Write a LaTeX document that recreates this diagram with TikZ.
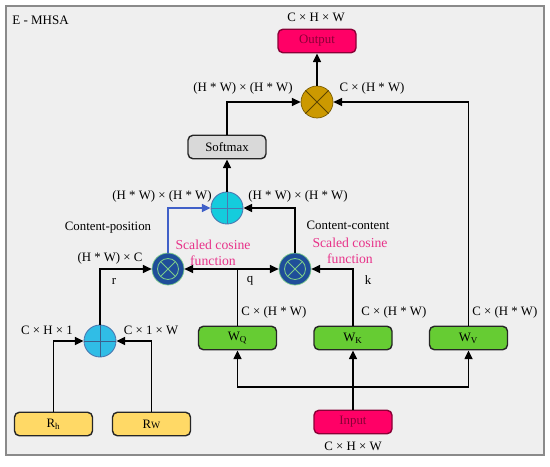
\documentclass[tikz,border=0pt]{standalone}
\usepackage{fontspec}
\setmainfont{Liberation Serif}
\usetikzlibrary{arrows.meta}
\definecolor{bgc}{HTML}{EFEFEF}
\definecolor{framec}{HTML}{8A8A8A}
\definecolor{outc}{HTML}{FF0066}
\definecolor{outtxt}{HTML}{8A0036}
\definecolor{goldc}{HTML}{CC9900}
\definecolor{grayc}{HTML}{D9D9D9}
\definecolor{cyanc}{HTML}{14CCDD}
\definecolor{cyanb}{HTML}{4A78B0}
\definecolor{addtwo}{HTML}{30BDE6}
\definecolor{navyc}{HTML}{1F4E99}
\definecolor{greenl}{HTML}{7CCB8A}
\definecolor{greenc}{HTML}{66CC33}
\definecolor{yellowc}{HTML}{FFD966}
\definecolor{pinkc}{HTML}{E8338A}
\definecolor{bluel}{HTML}{4060C8}
\begin{document}
\begin{tikzpicture}[x=0.02cm,y=-0.02cm,
  font=\fontsize{7.3}{8.8}\selectfont,
  every node/.style={inner sep=0pt},
  box/.style={draw=black!85, line width=0.8pt, rounded corners=2.8pt,
    minimum width=1.56cm, minimum height=0.47cm},
  circ/.style={circle, minimum size=0.64cm},
  arr/.style={line width=0.8pt, -{Triangle[length=5pt,width=4.6pt]}},
  ln/.style={line width=0.8pt},
  lbl/.style={font=\fontsize{7.3}{8.8}\selectfont},
  pinklbl/.style={text=pinkc, align=center, font=\fontsize{7.8}{9.2}\selectfont}
]
\useasboundingbox (0,0) rectangle (550,466);
\fill[white] (0,0) rectangle (550,466);
\draw[draw=framec, fill=bgc, line width=0.8pt] (6,6) rectangle (544,455);
\node[anchor=west, font=\fontsize{7.4}{9}\selectfont] (title) at (12,20) {E - MHSA};

% nodes
\node[box, fill=outc, draw=outtxt, text=outtxt] (out) at (317,41) {Output};
\node[circ, fill=goldc, draw=goldc!60!black, line width=0.4pt] (mul) at (317,102) {};
\draw[goldc!45!black, line width=0.5pt] (mul.north west) -- (mul.south east) (mul.north east) -- (mul.south west);
\node[box, fill=grayc] (soft) at (227,147) {Softmax};
\node[circ, fill=cyanc, draw=cyanb, line width=0.5pt] (add1) at (227,208) {};
\draw[cyanb, line width=0.5pt] (add1.north) -- (add1.south) (add1.west) -- (add1.east);
\node[circ, fill=navyc, draw=greenl, line width=0.4pt] (cos1) at (168,269) {};
\node[circ, fill=navyc, draw=greenl, line width=0.4pt] (cos2) at (295,269) {};
\foreach \c in {cos1,cos2}{
  \draw[greenl, line width=0.5pt] (\c.center) circle (0.21cm);
  \draw[greenl, line width=0.5pt] ([shift={(135:0.21cm)}]\c.center) -- ([shift={(-45:0.21cm)}]\c.center)
    ([shift={(45:0.21cm)}]\c.center) -- ([shift={(-135:0.21cm)}]\c.center);
}
\node[circ, fill=addtwo, draw=cyanb, line width=0.5pt] (add2) at (100,341) {};
\draw[cyanb!80!black, line width=0.4pt] (add2.north) -- (add2.south) (add2.west) -- (add2.east);
\node[box, fill=greenc] (wq) at (237.5,338) {W\textsubscript{Q}};
\node[box, fill=greenc] (wk) at (353,338) {W\textsubscript{K}};
\node[box, fill=greenc] (wv) at (468.5,338) {W\textsubscript{V}};
\node[box, fill=outc, draw=outtxt, text=outtxt] (in) at (353,422) {Input};
\node[box, fill=yellowc] (rh) at (53.5,424) {R\textsubscript{h}};
\node[box, fill=yellowc] (rw) at (151.5,424) {R{\fontsize{5.5}{6}\selectfont W}};

% connectors
\draw[arr] (mul) -- (out);
\draw[arr] (soft.north) |- (mul.west);
\draw[arr] (wv.north) |- (mul.east);
\draw[arr] (add1) -- (soft);
\draw[arr, bluel] (cos1.north) |- (add1.west);
\draw[arr] (cos2.north) |- (add1.east);
\draw[arr] (add2.north) |- (cos1.west);
\draw[arr] (wk.north) |- (cos2.east);
\coordinate (qj) at (wq.north |- cos1.east);
\draw[ln] (wq.north) -- (qj);
\draw[arr] (qj) -- (cos1.east);
\draw[arr] (qj) -- (cos2.west);
\draw[arr] (rh.north) |- (add2.west);
\draw[arr] (rw.north) |- (add2.east);
\draw[arr] (in.north) -- (wk.south);
\coordinate (ij) at (353,387);
\draw[arr] (ij) -| (wq.south);
\draw[arr] (ij) -| (wv.south);

% labels
\node[lbl] (l1) at (316,17) {C × H × W};
\node[lbl] (l2) at (372,88) {C × (H * W)};
\node[lbl] (l3) at (243,88) {(H * W) × (H * W)};
\node[lbl] (l4) at (162,196) {(H * W) × (H * W)};
\node[lbl] (l5) at (298,196) {(H * W) × (H * W)};
\node[lbl] (l6) at (108,228) {Content-position};
\node[lbl] (l7) at (348,225) {Content-content};
\node[pinklbl] (sc1) at (213,253) {Scaled cosine\\function};
\node[pinklbl] (sc2) at (350,251) {Scaled cosine\\function};
\node[lbl] (l8) at (110,258) {(H * W) × C};
\node[lbl] (lr) at (114,281) {r};
\node[lbl] (lq) at (250,281) {q};
\node[lbl] (lk) at (368,280) {k};
\node[lbl] (l9) at (47,330) {C × H × 1};
\node[lbl] (l10) at (151,330) {C × 1 × W};
\node[lbl, anchor=west] (l11) at (241,312) {C × (H * W)};
\node[lbl, anchor=west] (l12) at (361,312) {C × (H * W)};
\node[lbl, anchor=west] (l13) at (472,312) {C × (H * W)};
\node[lbl] (l14) at (353,446) {C × H × W};
\end{tikzpicture}
\end{document}
